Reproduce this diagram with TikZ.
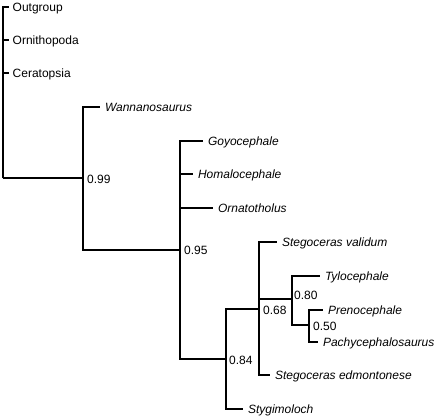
\documentclass[tikz,border=0pt]{standalone}
\usepackage{fontspec}
\setmainfont{Liberation Sans}
\begin{document}
\begin{tikzpicture}[x=1pt,y=-1pt,
  branch/.style={line width=2pt,line join=miter},
  leaf/.style={anchor=west,inner xsep=3.5pt,inner ysep=0pt,font=\fontsize{12}{14}\selectfont,text height=8.6pt,text depth=0pt},
  taxon/.style={leaf,inner xsep=4.8pt,font=\fontsize{12}{14}\selectfont\itshape},
  support/.style={anchor=west,inner xsep=2pt,inner ysep=0pt,font=\fontsize{12}{14}\selectfont,text height=8.6pt,text depth=0pt}]
\useasboundingbox (0,0) rectangle (435,418);
% internal vertices
\coordinate (root) at (3,178);
\coordinate (A) at (83,178);
\coordinate (B) at (180,250);
\coordinate (C) at (226,359);
\coordinate (D) at (259,309);
\coordinate (E) at (292,299);
\coordinate (F) at (309,325);
% leaves
\node[leaf]  (out)  at (9,7)   {Outgroup};
\node[leaf]  (orn)  at (9,40)  {Ornithopoda};
\node[leaf]  (cer)  at (9,73)  {Ceratopsia};
\node[taxon] (wan)  at (100,107) {Wannanosaurus};
\node[taxon] (goy)  at (203,141) {Goyocephale};
\node[taxon] (hom)  at (193,174) {Homalocephale};
\node[taxon] (ort)  at (213,208) {Ornatotholus};
\node[taxon] (sval) at (277,242) {Stegoceras validum};
\node[taxon] (tyl)  at (320,276) {Tylocephale};
\node[taxon] (pre)  at (323,310) {Prenocephale};
\node[taxon] (pac)  at (318,342) {Pachycephalosaurus};
\node[taxon] (sedm) at (270,375) {Stegoceras edmontonese};
\node[taxon] (sty)  at (243,409) {Stygimoloch};
% branches
\draw[branch] (root) |- (out.west);
\draw[branch] (root) |- (orn.west);
\draw[branch] (root) |- (cer.west);
\draw[branch] (root) -- (A);
\draw[branch] (A) |- (wan.west);
\draw[branch] (A) |- (B);
\draw[branch] (B) |- (goy.west);
\draw[branch] (B) |- (hom.west);
\draw[branch] (B) |- (ort.west);
\draw[branch] (B) |- (C);
\draw[branch] (C) |- (D);
\draw[branch] (C) |- (sty.west);
\draw[branch] (D) |- (sval.west);
\draw[branch] (D) |- (E);
\draw[branch] (D) |- (sedm.west);
\draw[branch] (E) |- (tyl.west);
\draw[branch] (E) |- (F);
\draw[branch] (F) |- (pre.west);
\draw[branch] (F) |- (pac.west);
% support values
\node[support] (sA) at (85,179)  {0.99};
\node[support] (sB) at (182,250) {0.95};
\node[support] (sC) at (227,360) {0.84};
\node[support] (sD) at (261,310) {0.68};
\node[support] (sE) at (292,295) {0.80};
\node[support] (sF) at (311,326) {0.50};
\end{tikzpicture}
\end{document}
